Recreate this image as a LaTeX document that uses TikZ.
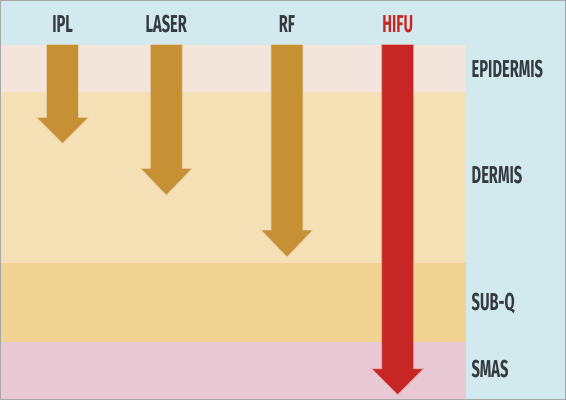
\documentclass[tikz,border=0pt]{standalone}
\usepackage{fontspec}
\setmainfont[FakeStretch=0.6]{Fira Sans}
\usepackage{xcolor}
\usetikzlibrary{positioning}
\definecolor{skyband}{HTML}{D2EAEE}
\definecolor{epilayer}{HTML}{F3E4DC}
\definecolor{dermlayer}{HTML}{F5DFB4}
\definecolor{subqlayer}{HTML}{F1D394}
\definecolor{smaslayer}{HTML}{E8C9D3}
\definecolor{beamgold}{HTML}{C69035}
\definecolor{hifured}{HTML}{C82624}
\definecolor{inkgray}{HTML}{343A3F}
\definecolor{framegray}{HTML}{A8A8A8}

\begin{document}
\begin{tikzpicture}[x=1pt,y=-1pt]
        \tikzset{lbl/.style={font=\bfseries\fontsize{24.5}{26}\selectfont,text=inkgray,inner sep=0pt,anchor=base}}
        \tikzset{beam/.style={fill=beamgold,draw=white!60!beamgold,line width=0.6pt}}
        \tikzset{hifubeam/.style={fill=hifured,draw=white!60!hifured,line width=0.6pt}}
        % background and skin layers
        \fill[skyband] (0,0) rectangle (566,400);
        \fill[epilayer] (0,44) rectangle (466,91);
        \fill[dermlayer] (0,91) rectangle (466,263);
        \fill[subqlayer] (0,263) rectangle (466,342);
        \fill[smaslayer] (0,342) rectangle (466,400);
        \draw[framegray,line width=1.5pt] (0,0) rectangle (566,400);
        % treatment labels
        \node[lbl] (IPL) at (62,32) {IPL};
        \node[lbl] (LASER) at (166,32) {LASER};
        \node[lbl] (RF) at (287,32) {RF};
        \node[lbl,text=hifured] (HIFU) at (398,32) {HIFU};
        % layer labels
        \node[lbl,anchor=base west] (EPI) at (472,77) {EPIDERMIS};
        \node[lbl,anchor=base west] (DERM) at (472,183) {DERMIS};
        \node[lbl,anchor=base west] (SUBQ) at (472,311) {SUB-Q};
        \node[lbl,anchor=base west] (SMAS) at (472,378) {SMAS};
        % penetration arrows
        \draw[beam] (46,44) -- (46,117) -- (36,117) -- (62,143) -- (88,117) -- (78,117) -- (78,44) -- cycle;
        \draw[beam] (150,44) -- (150,168) -- (140,168) -- (166,195) -- (192,168) -- (182,168) -- (182,44) -- cycle;
        \draw[beam] (271,44) -- (271,230) -- (261,230) -- (287,257) -- (313,230) -- (303,230) -- (303,44) -- cycle;
        \draw[hifubeam] (382,44) -- (382,369) -- (372,369) -- (398,395) -- (424,369) -- (414,369) -- (414,44) -- cycle;
\end{tikzpicture}
\end{document}
